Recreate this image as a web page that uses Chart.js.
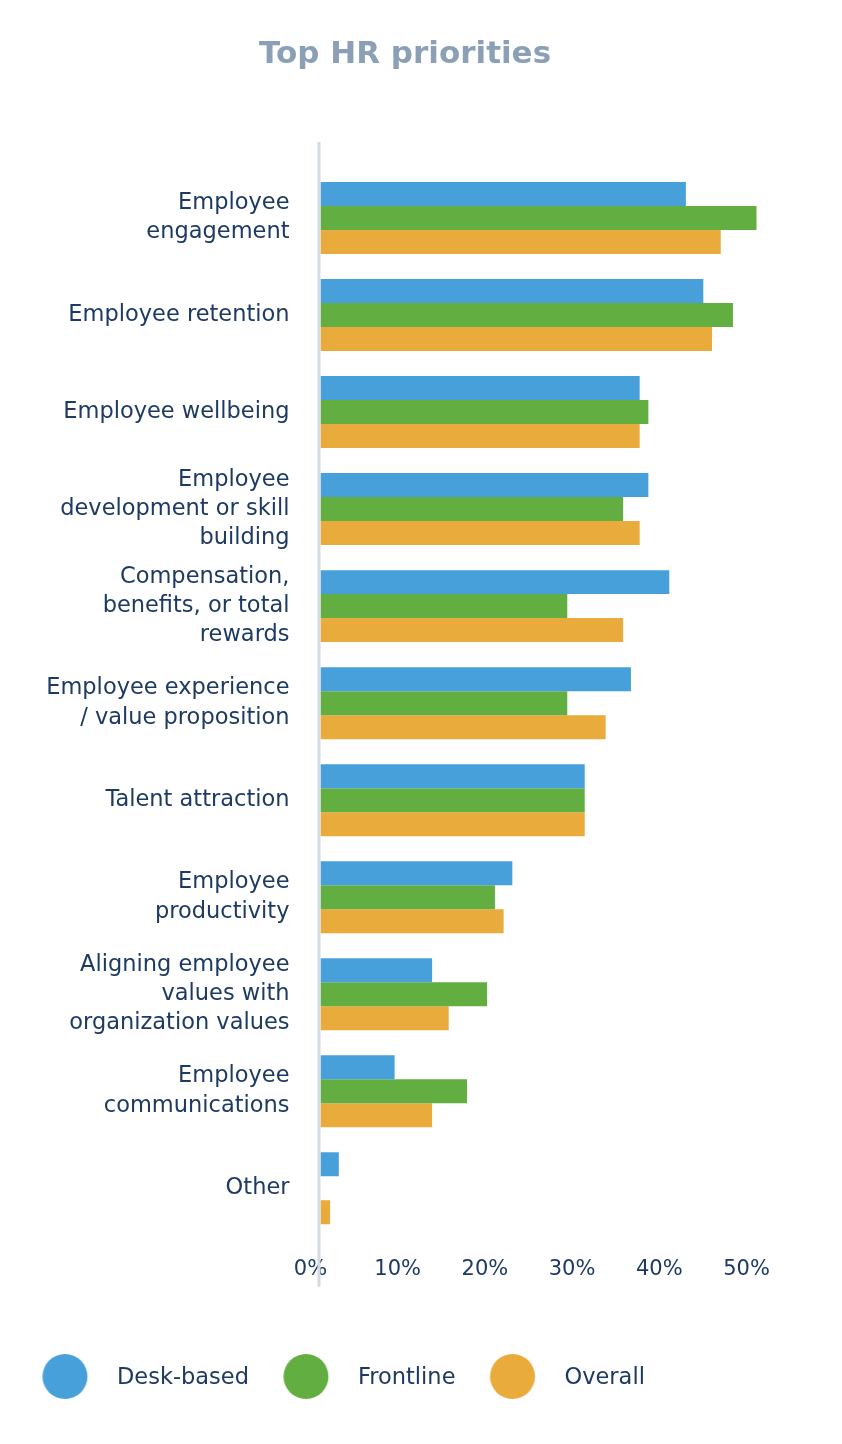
<!DOCTYPE html>
<html><head><meta charset="utf-8">
<script src="https://cdn.jsdelivr.net/npm/chart.js@4.4.1/dist/chart.umd.min.js"></script>
<style>html,body{margin:0;padding:0;background:#fff;}#wrap{width:842px;height:1444px;}</style>
</head><body><div id="wrap"><canvas id="c" width="842" height="1444"></canvas></div>
<script>
const categories = [
  ["Employee", "engagement"],
  "Employee retention",
  "Employee wellbeing",
  ["Employee", "development or skill", "building"],
  ["Compensation,", "benefits, or total", "rewards"],
  ["Employee experience", "/ value proposition"],
  "Talent attraction",
  ["Employee", "productivity"],
  ["Aligning employee", "values with", "organization values"],
  ["Employee", "communications"],
  "Other"
];
const deskBased = [41.9, 43.9, 36.6, 37.6, 40.0, 35.6, 30.3, 22.0, 12.8, 8.5, 2.1];
const frontline = [50.3, 47.3, 37.6, 34.7, 28.3, 28.3, 30.3, 20.0, 19.1, 16.8, null];
const overall   = [45.9, 44.9, 36.6, 36.6, 34.7, 32.7, 30.3, 21.0, 14.7, 12.8, 1.1];
const seriesNames = ["Desk-based", "Frontline", "Overall"];
const xTickValues = [0, 10, 20, 30, 40, 50];

const COLORS = ["#47a0da", "#63ae41", "#e8ab3c"];
const NAVY = "#1d3a63";
const FONT = "'DejaVu Sans', sans-serif";

function circleImg(color) {
  const c = document.createElement('canvas');
  c.width = 50; c.height = 48;
  const g = c.getContext('2d');
  g.fillStyle = color;
  g.beginPath();
  g.arc(26.75, 22.5, 22.5, 0, Math.PI * 2);
  g.fill();
  return c;
}
const legendImgs = COLORS.map(circleImg);

const axisLine = {
  id: 'axisLine',
  beforeDatasetsDraw(chart) {
    const {ctx, chartArea} = chart;
    ctx.save();
    ctx.strokeStyle = '#d3dae4';
    ctx.lineWidth = 3;
    ctx.beginPath();
    ctx.moveTo(chartArea.left - 1.5, chartArea.top - 27.5);
    ctx.lineTo(chartArea.left - 1.5, chartArea.bottom + 50);
    ctx.stroke();
    ctx.restore();
  }
};

new Chart(document.getElementById('c'), {
  type: 'bar',
  data: {
    labels: categories,
    datasets: [
      {label: seriesNames[0], data: deskBased, backgroundColor: COLORS[0]},
      {label: seriesNames[1], data: frontline, backgroundColor: COLORS[1]},
      {label: seriesNames[2], data: overall, backgroundColor: COLORS[2]}
    ]
  },
  options: {
    indexAxis: 'y',
    responsive: false,
    animation: false,
    categoryPercentage: 0.742,
    barPercentage: 1.0,
    layout: {padding: {left: 8, right: 40, top: 0, bottom: 44.75}},
    scales: {
      x: {
        min: 0, max: 50,
        afterBuildTicks(s) { s.ticks = xTickValues.map(v => ({value: v})); },
        afterFit(s) { s.paddingLeft = 0; s.paddingRight = 85.5; s.height = 117.2; },
        grid: {display: false, drawTicks: false},
        border: {display: false},
        ticks: {
          padding: 20,
          labelOffset: -10,
          color: NAVY,
          font: {family: FONT, size: 21},
          callback: v => v + '%'
        }
      },
      y: {
        afterFit(s) { s.width = 312.5; },
        grid: {display: false, drawTicks: false},
        border: {display: false},
        ticks: {
          padding: 31,
          color: NAVY,
          font: {family: FONT, size: 22.5, lineHeight: 1.3}
        }
      }
    },
    plugins: {
      title: {
        display: true,
        text: 'Top HR priorities',
        color: '#8ba0b6',
        font: {family: FONT, size: 31, weight: 'bold'},
        padding: {top: 36.4, bottom: 95.9}
      },
      legend: {
        position: 'bottom',
        align: 'start',
        labels: {
          usePointStyle: true,
          pointStyleWidth: 85,
          padding: 12.75,
          color: NAVY,
          font: {family: FONT, size: 22.5},
          generateLabels(chart) {
            const items = Chart.defaults.plugins.legend.labels.generateLabels(chart);
            items.forEach((it, i) => { it.pointStyle = legendImgs[i]; });
            return items;
          }
        }
      },
      tooltip: {enabled: false}
    }
  },
  plugins: [axisLine]
});
</script>
</body></html>
